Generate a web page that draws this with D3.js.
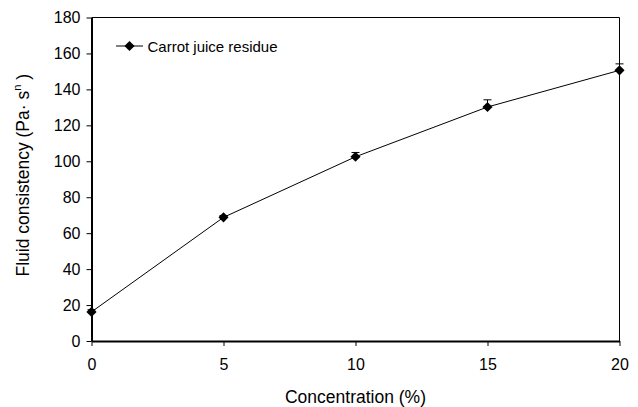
<!DOCTYPE html>
<html>
<head>
<meta charset="utf-8">
<script src="https://cdn.jsdelivr.net/npm/d3@7"></script>
<style>
  body { margin: 0; background: #fff; }
  text { font-family: "Liberation Sans", Arial, sans-serif; fill: #000; }
</style>
</head>
<body>
<svg></svg>
<script>
// data
let concentration = [0, 5, 10, 15, 20]
let consistency = [16.2, 68.8, 102.5, 130.2, 150.6]
let errUp = [1.2, 1.0, 2.4, 4.0, 3.6]
let xTicks = [0, 5, 10, 15, 20]
let yTicks = [0, 20, 40, 60, 80, 100, 120, 140, 160, 180]
let seriesName = 'Carrot juice residue'

let width = 638,
    height = 407
let m = {left: 91.5, right: 18.5, top: 17.5, bottom: 66}

let svg = d3.select('svg').attr('width', width).attr('height', height)

let x = d3.scaleLinear().domain([0, 20]).range([m.left, width - m.right])
let y = d3.scaleLinear().domain([0, 180]).range([height - m.bottom, m.top])

// frame: thin top/right
svg.append('line')
  .attr('x1', x(0)).attr('x2', x(20)).attr('y1', y(180)).attr('y2', y(180))
  .attr('stroke', '#000').attr('stroke-width', 1)
svg.append('line')
  .attr('x1', x(20)).attr('x2', x(20)).attr('y1', y(180)).attr('y2', y(0))
  .attr('stroke', '#000').attr('stroke-width', 1)

// axes
let xAxis = svg.append('g')
  .attr('transform', `translate(0,${y(0)})`)
  .call(d3.axisBottom(x).tickValues(xTicks).tickSize(5).tickPadding(13).tickSizeOuter(0))
let yAxis = svg.append('g')
  .attr('transform', `translate(${x(0)},0)`)
  .call(d3.axisLeft(y).tickValues(yTicks).tickSize(5).tickPadding(6).tickSizeOuter(0))

;[xAxis, yAxis].forEach(a => {
  a.select('.domain').attr('stroke', '#000').attr('stroke-width', 2)
  a.selectAll('.tick line').attr('stroke', '#000').attr('stroke-width', 1)
  a.selectAll('.tick text')
    .style('font-family', '"Liberation Sans", Arial, sans-serif')
    .style('font-size', '16px').attr('fill', '#000')
})

// axis titles
svg.append('text')
  .attr('x', (x(0) + x(20)) / 2).attr('y', 403)
  .attr('text-anchor', 'middle')
  .style('font-size', '17.5px')
  .text('Concentration (%)')

let yt = svg.append('text')
  .attr('transform', `translate(29,${(y(0) + y(180)) / 2 - 4}) rotate(-90)`)
  .attr('text-anchor', 'middle')
  .style('font-size', '17.5px')
yt.append('tspan').text('Fluid consistency (Pa· s')
yt.append('tspan').attr('dy', -8).style('font-size', '11px').text('n')
yt.append('tspan').attr('dy', 8).text(' )')

// line
let pts = concentration.map((c, i) => ({c, v: consistency[i], e: errUp[i]}))
let line = d3.line().x(d => x(d.c)).y(d => y(d.v))
svg.append('path')
  .datum(pts)
  .attr('d', line)
  .attr('fill', 'none').attr('stroke', '#000').attr('stroke-width', 1)

// upper error bars
let eb = svg.append('g').attr('class', 'errbars')
eb.selectAll('line.v')
  .data(pts).enter().append('line')
  .attr('class', 'v')
  .attr('x1', d => x(d.c)).attr('x2', d => x(d.c))
  .attr('y1', d => y(d.v)).attr('y2', d => y(d.v + d.e))
  .attr('stroke', '#000')
eb.selectAll('line.cap')
  .data(pts).enter().append('line')
  .attr('class', 'cap')
  .attr('x1', d => x(d.c) - 4).attr('x2', d => x(d.c) + 4)
  .attr('y1', d => y(d.v + d.e)).attr('y2', d => y(d.v + d.e))
  .attr('stroke', '#000')

// diamonds
let diamond = d3.symbol().type(d3.symbolDiamond2).size(66)
svg.selectAll('.pt')
  .data(pts).enter().append('path')
  .attr('class', 'pt')
  .attr('transform', d => `translate(${x(d.c)},${y(d.v)})`)
  .attr('d', diamond)
  .attr('fill', '#000')

// legend
let lg = svg.append('g').attr('transform', 'translate(116,46)')
lg.append('line').attr('x1', 0).attr('x2', 27).attr('y1', 0).attr('y2', 0)
  .attr('stroke', '#000')
lg.append('path').attr('transform', 'translate(13.5,0)').attr('d', diamond).attr('fill', '#000')
lg.append('text').attr('x', 31.5).attr('y', 5.5)
  .style('font-size', '15px')
  .text(seriesName)
</script>
</body>
</html>
